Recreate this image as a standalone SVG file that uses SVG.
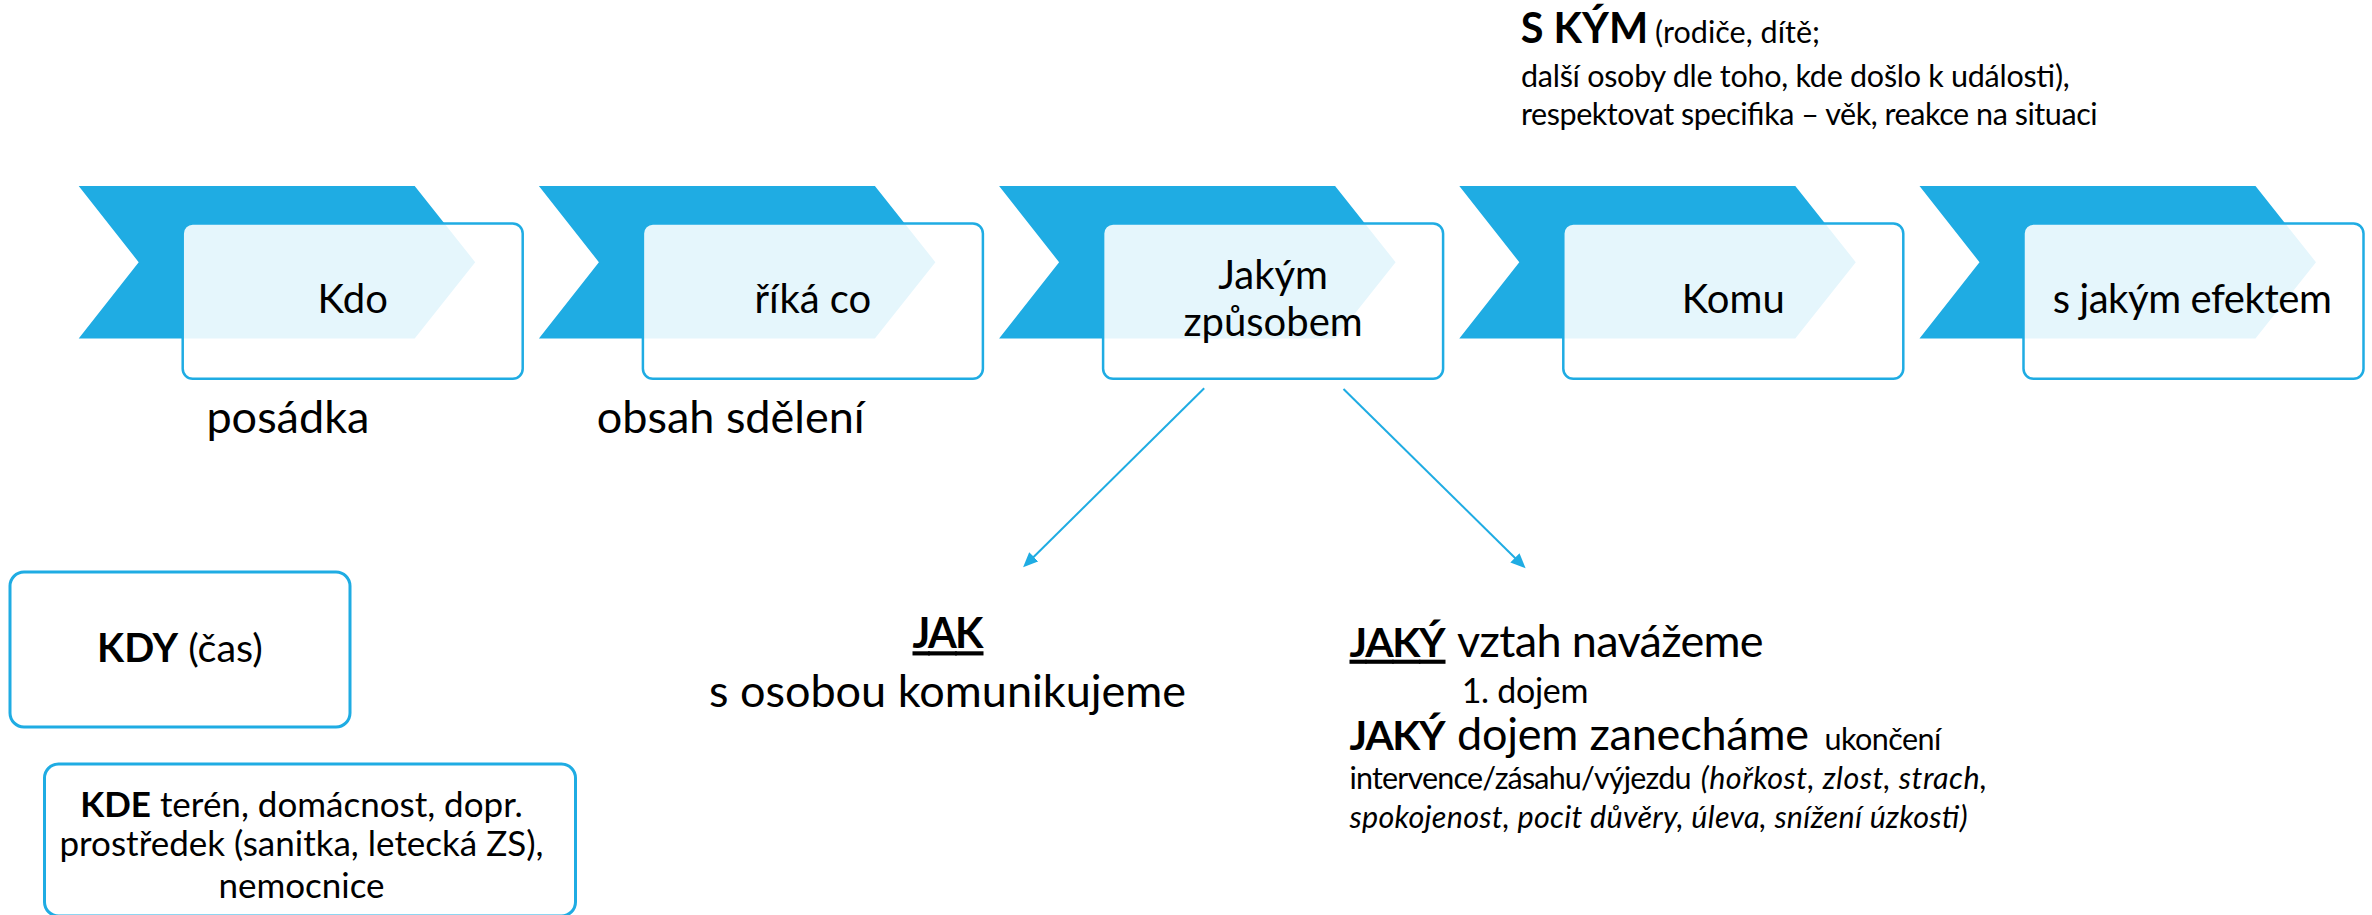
<svg xmlns="http://www.w3.org/2000/svg" width="2372" height="915" viewBox="0 0 2372 915">
<style>
text{font-family:Lato,"Liberation Sans",sans-serif;fill:#000}
.chev{fill:#1FACE3}
.box{fill:#fff;fill-opacity:0.885;stroke:#1FACE3;stroke-width:2.5}
.frame{fill:#fff;stroke:#1FACE3;stroke-width:3}
.bt{font-size:40px;text-anchor:middle}
.big{font-size:45px}
.sm{font-size:30.5px}
.b{font-weight:bold}
.i{font-style:italic}
.u{text-decoration:underline}
.conn{stroke:#1FACE3;stroke-width:2;fill:none;marker-end:url(#ah)}
</style>
<defs>
<marker id="ah" markerUnits="userSpaceOnUse" markerWidth="16" markerHeight="14" refX="7" refY="6.5" orient="auto">
<path d="M0,0 L15,6.5 L0,13 z" fill="#1FACE3"/>
</marker>
<path id="chevShape" d="M0,186 H336 L396.5,262.2 L336,338.5 H0 L60,262.2 Z"/>
</defs>
<rect width="2372" height="915" fill="#fff"/>

<g id="step-kdo">
<use href="#chevShape" class="chev" x="78.7"/>
<rect class="box" x="182.7" y="223.5" width="340" height="155.3" rx="10"/>
<text class="bt" x="352.7" y="313">Kdo</text>
</g>
<g id="step-rika-co">
<use href="#chevShape" class="chev" x="538.9"/>
<rect class="box" x="642.9" y="223.5" width="340" height="155.3" rx="10"/>
<text class="bt" x="812.9" y="313">říká co</text>
</g>
<g id="step-jakym">
<use href="#chevShape" class="chev" x="999.1"/>
<rect class="box" x="1103.1" y="223.5" width="340" height="155.3" rx="10"/>
<text class="bt" x="1273.1" y="289">Jakým</text>
<text class="bt" x="1273.1" y="335.7">způsobem</text>
</g>
<g id="step-komu">
<use href="#chevShape" class="chev" x="1459.3"/>
<rect class="box" x="1563.3" y="223.5" width="340" height="155.3" rx="10"/>
<text class="bt" x="1733.3" y="313">Komu</text>
</g>
<g id="step-efekt">
<use href="#chevShape" class="chev" x="1919.5"/>
<rect class="box" x="2023.5" y="223.5" width="340" height="155.3" rx="10"/>
<text class="bt" x="2192.3" y="313" textLength="279">s jakým efektem</text>
</g>

<g id="label-posadka">
<text class="big" x="206.4" y="433">posádka</text>
</g>
<g id="label-obsah">
<text class="big" x="596.7" y="433">obsah sdělení</text>
</g>

<g id="note-skym">
<text class="b" x="1520.7" y="43.3" style="font-size:41.5px">S KÝM</text>
<text class="sm" x="1655" y="43.3" textLength="165">(rodiče, dítě;</text>
<text class="sm" x="1521" y="87.3" textLength="548.7">další osoby dle toho, kde došlo k události),</text>
<text class="sm" x="1521" y="125" textLength="576.6">respektovat specifika – věk, reakce na situaci</text>
</g>

<g id="node-kdy">
<rect class="frame" x="10" y="572" width="340" height="155" rx="14"/>
<text x="180" y="661.7" text-anchor="middle" style="font-size:39.5px"><tspan class="b">KDY</tspan> (čas)</text>
</g>

<g id="node-kde">
<rect class="frame" x="44.5" y="764" width="531" height="152" rx="14"/>
<text x="301.5" y="816.7" text-anchor="middle" style="font-size:35px"><tspan class="b">KDE</tspan> terén, domácnost, dopr.</text>
<text x="301.5" y="856" text-anchor="middle" style="font-size:35px">prostředek (sanitka, letecká ZS),</text>
<text x="301.5" y="898.3" text-anchor="middle" style="font-size:35px">nemocnice</text>
</g>

<g id="node-jak">
<text class="b u" x="948" y="648.3" text-anchor="middle" style="font-size:41.5px" textLength="71">JAK</text>
<text class="big" x="947.5" y="706.7" text-anchor="middle">s osobou komunikujeme</text>
</g>

<g id="node-jaky">
<text class="b u" x="1349.5" y="656.7" style="font-size:41px" textLength="96">JAKÝ</text>
<text class="big" x="1457" y="656.7" textLength="306.6">vztah navážeme</text>
<text x="1461.7" y="702.7" style="font-size:34px" textLength="126.7">1. dojem</text>
<text class="b" x="1349.5" y="750" style="font-size:41px" textLength="96">JAKÝ</text>
<text class="big" x="1457" y="750" textLength="352">dojem zanecháme</text>
<text class="sm" x="1824.4" y="750" textLength="117">ukončení</text>
<text class="sm" x="1349.5" y="789" textLength="342">intervence/zásahu/výjezdu</text>
<text class="sm i" x="1700.8" y="789" textLength="286.2">(hořkost, zlost, strach,</text>
<text class="sm i" x="1349.5" y="827.7" textLength="618">spokojenost, pocit důvěry, úleva, snížení úzkosti)</text>
</g>

<g id="connectors">
<line class="conn" x1="1204.2" y1="388.3" x2="1028.8" y2="561.7"/>
<line class="conn" x1="1343.5" y1="389" x2="1519.9" y2="562.7"/>
</g>
</svg>
